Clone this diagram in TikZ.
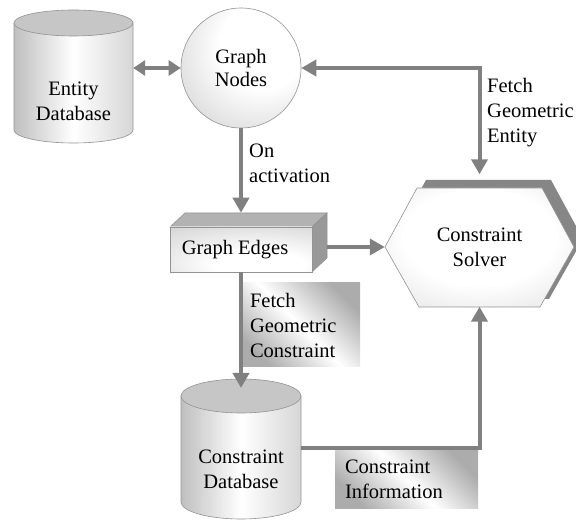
\documentclass[tikz,border=0pt]{standalone}
\usepackage{fontspec}
\setmainfont{Liberation Serif}
\newfontfamily\diagfont{Liberation Serif}
\usetikzlibrary{arrows.meta,calc}

% soft highlights for the shaded shapes
\pgfdeclareradialshading{nodeball}{\pgfpoint{12bp}{12bp}}{color(0bp)=(white); color(18bp)=(white); color(50bp)=(gray!48); color(75bp)=(gray!65)}
\pgfdeclareradialshading{facelight}{\pgfpoint{8bp}{-22bp}}{color(0bp)=(white); color(16bp)=(white); color(60bp)=(gray!50); color(80bp)=(gray!60)}
\pgfdeclareradialshading{solverlight}{\pgfpoint{0bp}{6bp}}{color(0bp)=(white); color(20bp)=(white); color(55bp)=(gray!42); color(75bp)=(gray!58)}

\tikzset{
  txt/.style={font=\diagfont\fontsize{20.5}{25}\selectfont, align=center, inner sep=0pt},
  outline/.style={draw=gray!85, line width=0.6pt},
  side/.style={left color=gray!50, right color=gray!32, middle color=white},
  lidfill/.style={fill=gray!45},
  lbl/.style={txt, align=left, inner ysep=0pt, inner xsep=10pt,
    top color=gray!65, bottom color=gray!65, middle color=white, shading angle=-45},
  link/.style={draw=gray, line width=4pt},
  tip/.style={-{Triangle[length=15pt,width=16pt]}},
  tips/.style={{Triangle[length=15pt,width=16pt]}-{Triangle[length=15pt,width=16pt]}},
  smalltips/.style={{Triangle[length=12pt,width=15pt]}-{Triangle[length=12pt,width=15pt]}}
}

\begin{document}
\begin{tikzpicture}[x=1pt,y=1pt]
\useasboundingbox (0,0) rectangle (576,520);
\clip (0,0) rectangle (576,520);

% Entity database cylinder
\draw[outline, side] (14,497) -- (14,390)
  arc[start angle=180, end angle=360, x radius=59.5pt, y radius=13pt] -- (133,497) -- cycle;
\draw[outline, lidfill] (73.5,497) ellipse[x radius=59.5pt, y radius=13pt];
\node[txt, minimum width=119pt] (entdb) at (73.5,419) {Entity\\Database};

% Constraint database cylinder
\draw[outline, side] (181,124) -- (181,18)
  arc[start angle=180, end angle=360, x radius=60pt, y radius=17pt] -- (301,124) -- cycle;
\draw[outline, lidfill] (241,124) ellipse[x radius=60pt, y radius=17pt];
\node[txt, minimum width=120pt] (cdb) at (241,50.5) {Constraint\\Database};

% Graph nodes
\node[circle, minimum size=120pt, outline, shading=nodeball, txt] (gn) at (241,452) {\raisebox{-5pt}{\shortstack{Graph\\[2pt]Nodes}}};

% Graph edges block
\draw[outline, fill=gray!60] (170,293) -- (185,307) -- (327,307) -- (312,293) -- cycle;
\draw[outline, fill=gray!80] (312,293) -- (327,307) -- (327,262) -- (312,248) -- cycle;
\node[outline, shading=facelight, minimum width=142pt, minimum height=45pt, txt] (ge) at (241,270.5) {Graph Edges\hspace*{12pt}};
\coordinate (getop) at ([yshift=14pt]ge.north);

% Constraint solver hexagon with its shadow
\fill[gray!95] (394,281) -- (426,340) -- (551,340) -- (583,281) -- (549,221) -- (428,221) -- cycle;
\draw[outline, shading=solverlight] (385,273) -- (417,332) -- (542,332) -- (574,273) -- (540,213) -- (419,213) -- cycle;
\node[minimum width=189pt, minimum height=119pt, txt] (solver) at (479.5,273) {Constraint\\Solver};

% Labels
\node[txt, anchor=west, align=left] (onact) at (249,356.5) {On\\activation};
\node[txt, anchor=west, align=left] (fge) at (487,407) {Fetch\\Geometric\\Entity};
\node[lbl, minimum width=120pt, minimum height=84pt, text width=100pt] (fgc) at (300,195) {Fetch\\Geometric\\Constraint};
\node[lbl, minimum width=143pt, minimum height=58pt, text width=123pt] (ci) at (406.5,41) {Constraint\\Information};

\coordinate (cdbtop) at ([yshift=81.5pt]cdb.center);

% Connectors
\draw[link, smalltips] (entdb.east |- gn.west) -- (gn.west);
\draw[link, tips] (gn.east) -| ([yshift=13pt]solver.north);
\draw[link, tip] (gn.south) -- (gn.south |- getop);
\draw[link, tip] ([xshift=15pt]ge.east |- solver.west) -- (solver.west);
\draw[link, tip] (ge.south) -- (ge.south |- cdbtop);
\draw[link, tip] ([yshift=21.5pt]cdb.east) -| (solver.south);
\end{tikzpicture}
\end{document}
